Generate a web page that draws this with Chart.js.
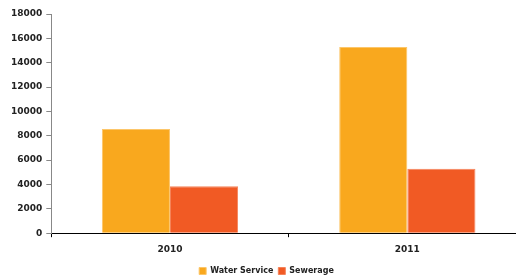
<!DOCTYPE html>
<html>
<head>
<meta charset="utf-8">
<script src="https://cdn.jsdelivr.net/npm/chart.js@4"></script>
<style>
  html, body { margin: 0; padding: 0; background: #fff; overflow: hidden; }
  #box { width: 526px; height: 280px; }
</style>
</head>
<body>
<div id="box"><canvas id="grafico"></canvas></div>
<script>
const anos = ["2010", "2011"];
const aguaValores = [8550, 15300];
const esgotoValores = [3850, 5300];
const ticksY = [0, 2000, 4000, 6000, 8000, 10000, 12000, 14000, 16000, 18000];

const fonte = { family: "DejaVu Sans", weight: "bold", size: 9 };

const ctx = document.getElementById("grafico").getContext("2d");
new Chart(ctx, {
  type: "bar",
  data: {
    labels: anos,
    datasets: [
      {
        label: "Water Service",
        data: aguaValores,
        backgroundColor: "#f9a81e",
        borderColor: "#fcc66a",
        borderWidth: 1,
        categoryPercentage: 0.574,
        barPercentage: 1
      },
      {
        label: "Sewerage",
        data: esgotoValores,
        backgroundColor: "#f15a24",
        borderColor: "#f5835a",
        borderWidth: 1,
        categoryPercentage: 0.574,
        barPercentage: 1
      }
    ]
  },
  options: {
    responsive: true,
    maintainAspectRatio: false,
    animation: false,
    layout: { padding: { top: 14, left: 7, right: 0, bottom: -5 } },
    scales: {
      x: {
        grid: { display: true, drawOnChartArea: false, offset: true, tickLength: 4, color: "#000" },
        border: { color: "#000", width: 1 },
        ticks: { color: "#222", font: fonte, padding: 7 }
      },
      y: {
        min: 0,
        max: 18000,
        afterBuildTicks: axis => { axis.ticks = ticksY.map(v => ({ value: v })); },
        grid: { display: true, drawOnChartArea: false, tickLength: 5, color: "#888" },
        border: { color: "#888", width: 1 },
        ticks: { color: "#222", font: fonte, padding: 4, callback: v => String(v) }
      }
    },
    plugins: {
      legend: {
        position: "bottom",
        labels: { font: { family: "DejaVu Sans", weight: "bold", size: 8 }, color: "#222", boxWidth: 7, boxHeight: 7, padding: 5 }
      },
      tooltip: { enabled: false }
    }
  }
});
</script>
</body>
</html>
